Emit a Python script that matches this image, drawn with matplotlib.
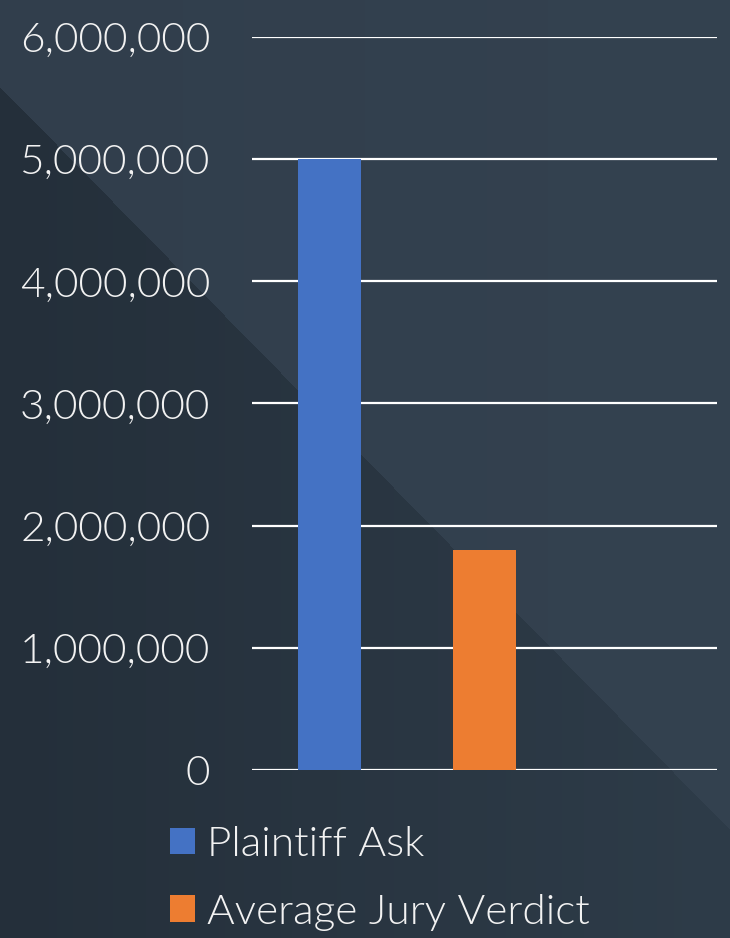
import matplotlib
matplotlib.use('Agg')
import numpy as np
import matplotlib.pyplot as plt
from matplotlib.patches import Patch
from matplotlib.ticker import FuncFormatter

series = ['Plaintiff Ask', 'Average Jury Verdict']
values = [5000000, 1800000]
colors = ['#4472C4', '#ED7D31']
yticks = [0, 1000000, 2000000, 3000000, 4000000, 5000000, 6000000]

txt = '#F2F2F2'
plt.rcParams['font.family'] = ['Lato', 'DejaVu Sans']

fig = plt.figure(figsize=(7.3, 9.38), dpi=100)
fig.patch.set_facecolor('#323F4C')

# background: lighter upper right, darker diagonal area lower left
W, H = 730, 938
xx, yy = np.meshgrid(np.arange(W), np.arange(H))
edge = 87 + xx * (830 - 87) / W
dark = yy > edge
t = (xx / W)[..., None]
light_c = np.array([49, 62, 76]) + t * np.array([3, 4, 4])
dark_c = np.array([36, 47, 58]) + t * np.array([10, 13, 15])
img = np.where(dark[..., None], dark_c, light_c) / 255.0
bg = fig.add_axes([0, 0, 1, 1], zorder=0)
bg.imshow(img, aspect='auto', interpolation='bilinear')
bg.axis('off')

ax = fig.add_axes([252 / 730, 1 - 770 / 938, 465 / 730, 733 / 938], zorder=1)
ax.set_facecolor('none')

for i, (name, v, c) in enumerate(zip(series, values, colors)):
  ax.bar(i, v, width=0.406, color=c, label=name, zorder=3)

ax.set_xlim(-0.5, 2.5)
ax.set_ylim(0, 6000000)
ax.set_yticks(yticks)
ax.yaxis.set_major_formatter(FuncFormatter(lambda v, p: '{:,.0f}'.format(v)))
ax.grid(axis='y', color='white', linewidth=1.6, zorder=1)
ax.set_axisbelow(True)
ax.set_xticks([])
for s in ax.spines.values():
  s.set_visible(False)
ax.tick_params(axis='y', length=0, pad=30, labelsize=30.5, labelcolor=txt)
for lab in ax.get_yticklabels():
  lab.set_fontweight(300)

handles = [Patch(facecolor=c, edgecolor='none') for c in colors]
leg = fig.legend(handles, series, loc='upper left',
                 bbox_to_anchor=(170 / 730, 1 - 826 / 938),
                 frameon=False, fontsize=30.5, handlelength=0.58,
                 handleheight=0.58, handletextpad=0.3, labelspacing=0.72,
                 borderpad=0, borderaxespad=0)
for t in leg.get_texts():
  t.set_color(txt)
  t.set_fontweight(300)

fig.savefig('out.png', dpi=100, facecolor=fig.get_facecolor())
